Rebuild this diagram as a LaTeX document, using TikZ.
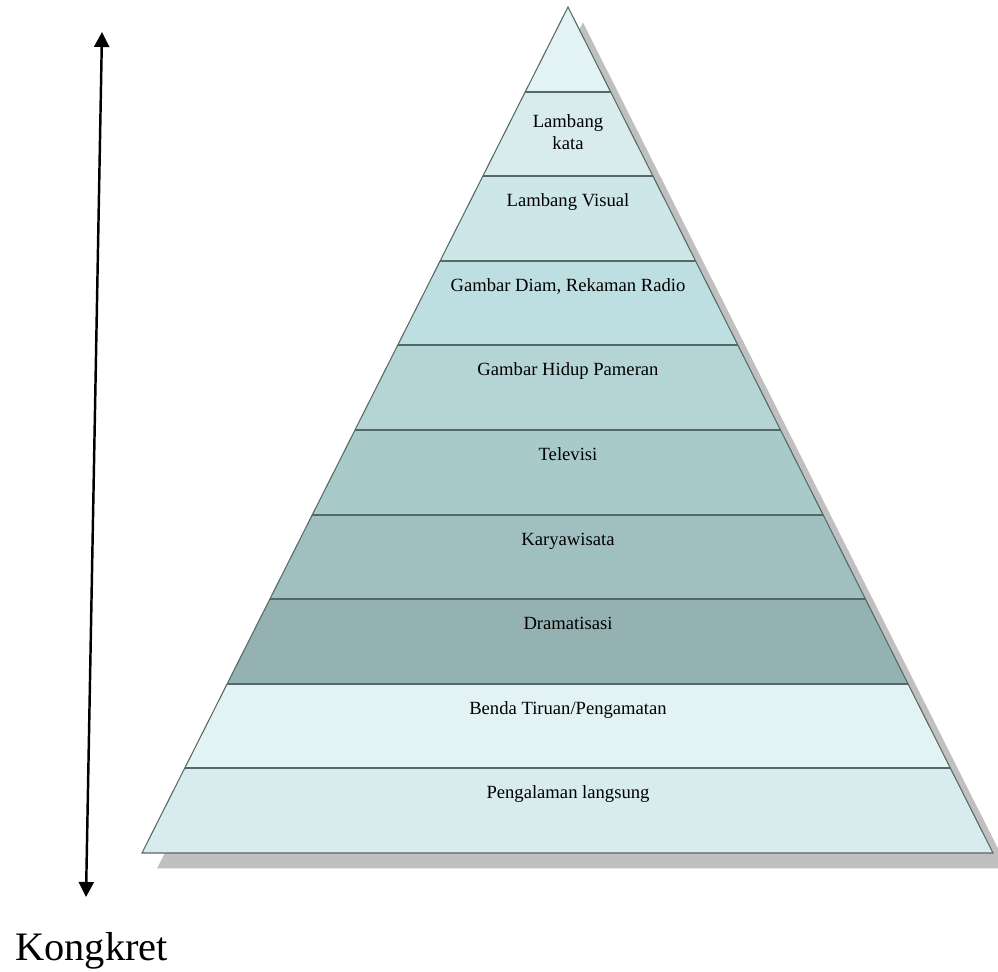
\documentclass[tikz,border=0pt]{standalone}
\usepackage{fontspec}
\setmainfont{Liberation Serif}
\usetikzlibrary{arrows.meta}
\definecolor{pyrLine}{HTML}{566767}
\definecolor{pyrShadow}{HTML}{C0C0C0}
\definecolor{bandA}{HTML}{E3F3F3}
\definecolor{bandB}{HTML}{D8ECEE}
\definecolor{bandC}{HTML}{CDE6E8}
\definecolor{bandD}{HTML}{BEDFE2}
\definecolor{bandE}{HTML}{B5D4D6}
\definecolor{bandF}{HTML}{A9CACB}
\definecolor{bandG}{HTML}{A0BFC0}
\definecolor{bandH}{HTML}{95B2B3}

\tikzset{
  lbl/.style={anchor=base, inner sep=0pt, align=center,
    font=\fontsize{10.6}{12.6}\selectfont},
  >={Triangle[length=0.3cm,width=0.3cm]}
}

\begin{document}
\begin{tikzpicture}
    \useasboundingbox (0,0) rectangle (19.96,19.44);
    \coordinate (apex) at (11.36,19.30);
    \coordinate (baseL) at (2.84,2.38);
    \coordinate (baseR) at (19.86,2.38);

    \fill[pyrShadow] ([shift={(0.3,-0.31)}]apex) -- ([shift={(0.3,-0.31)}]baseL)
        -- ([shift={(0.3,-0.31)}]baseR) -- cycle;

    \begin{scope}
        \clip (apex) -- (baseL) -- (baseR) -- cycle;
        \foreach \c [count=\i from 0] in {bandA,bandB,bandC,bandD,bandE,bandF,bandG,bandH,bandA,bandB} {
            \pgfmathsetmacro{\yt}{19.30-\i*1.692}
            \pgfmathsetmacro{\yb}{\yt-1.692}
            \fill[\c] (2.5,\yt) rectangle (20,\yb);
        }
        \foreach \i in {1,...,9} {
            \pgfmathsetmacro{\yt}{19.30-\i*1.692}
            \draw[pyrLine, line width=1.1pt] (2.5,\yt) -- (20,\yt);
        }
    \end{scope}
    \draw[pyrLine, line width=0.6pt] (apex) -- (baseL) -- (baseR) -- cycle;

    \node[lbl] (lbl1) at (11.36,16.44) {Lambang\\kata};
    \foreach \t [count=\i from 2] in {Lambang Visual, {Gambar Diam, Rekaman Radio},
            Gambar Hidup Pameran, Televisi, Karyawisata, Dramatisasi,
            Benda Tiruan/Pengamatan, Pengalaman langsung} {
        \pgfmathsetmacro{\yl}{19.30-\i*1.692-0.61}
        \node[lbl] (lbl\i) at (11.36,\yl) {\t};
    }

    \coordinate (abstrak) at (2.04,18.80);
    \coordinate (kongkret) at (1.72,1.50);
    \draw[<->, line width=1.4pt] (abstrak) -- (kongkret);
    \node[anchor=base west, inner sep=0pt, font=\fontsize{23}{27}\selectfont]
        (kongLbl) at (0.3,0.22) {Kongkret};
\end{tikzpicture}
\end{document}
